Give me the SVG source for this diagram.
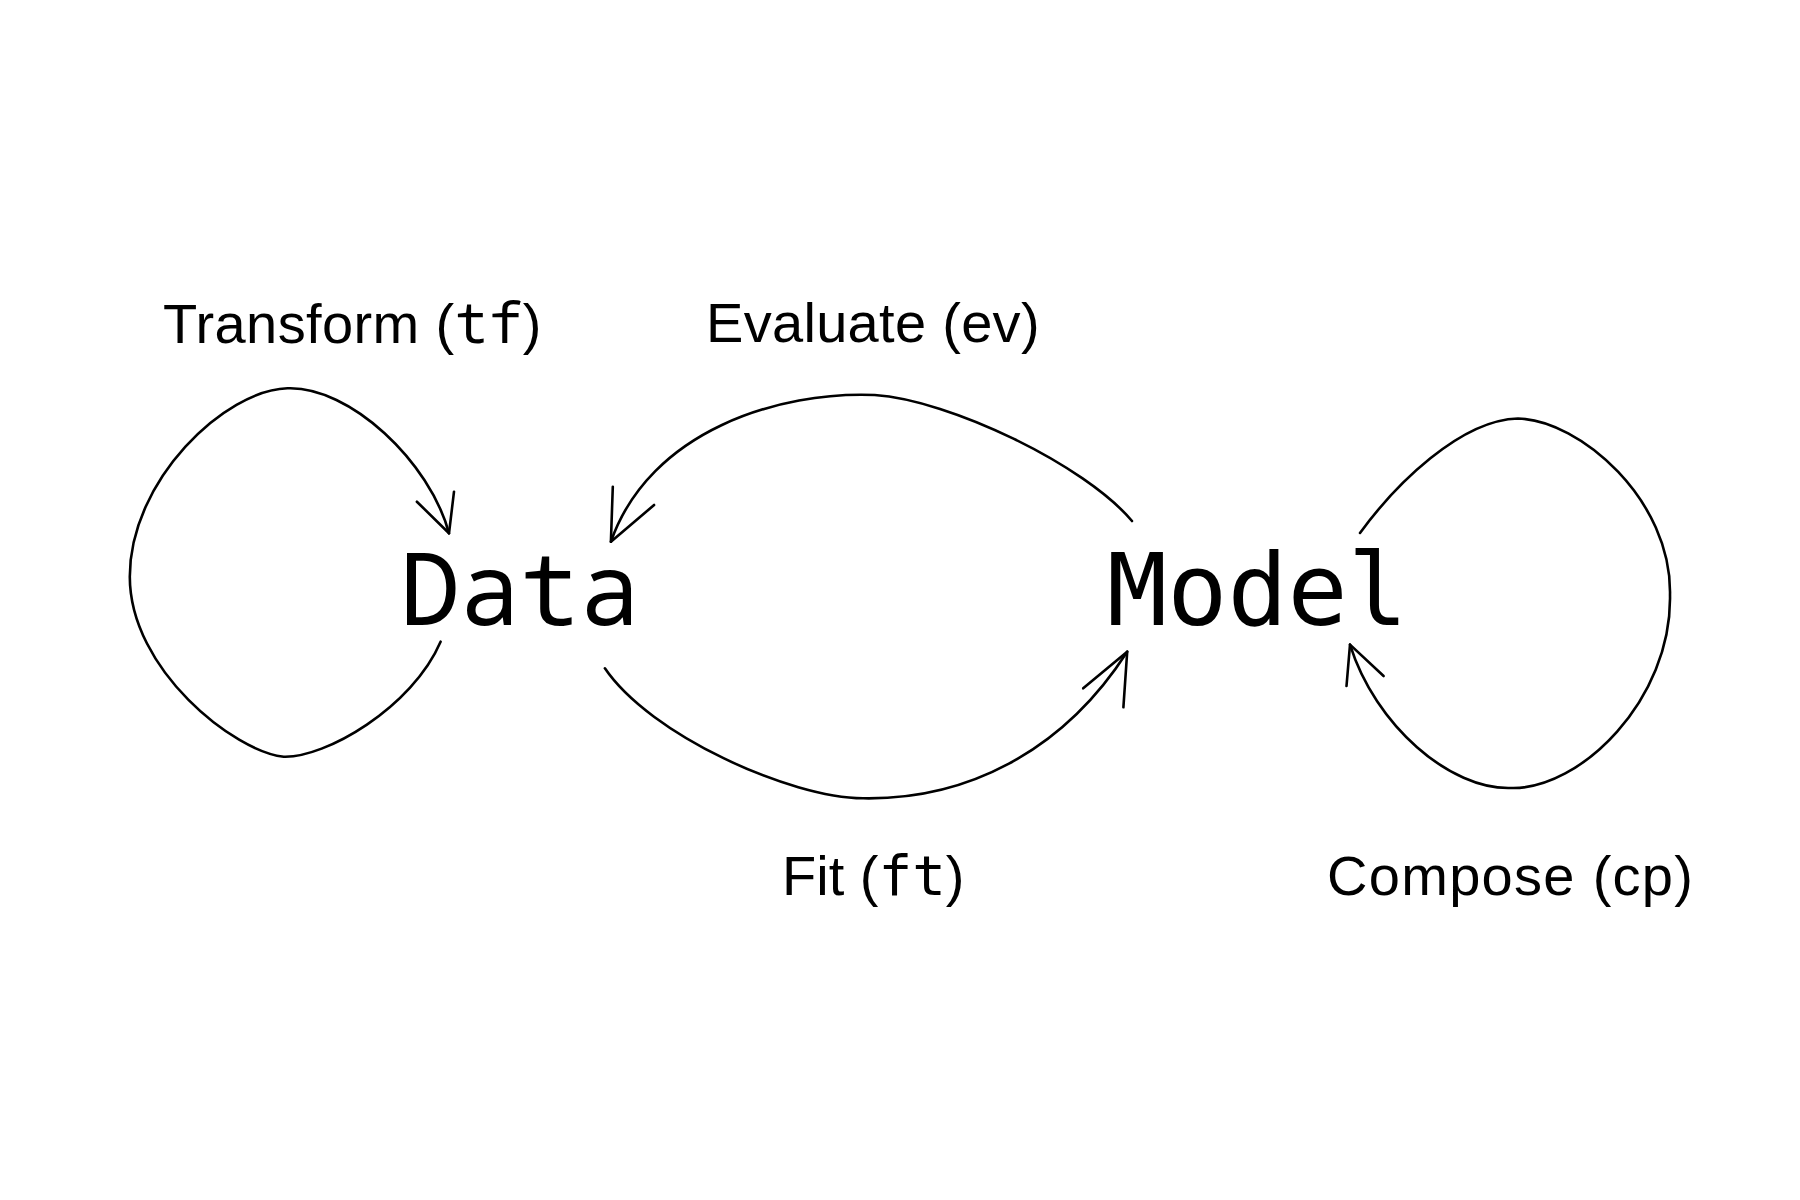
<svg xmlns="http://www.w3.org/2000/svg" width="1800" height="1200" viewBox="0 0 1800 1200">
<style>
.edge{fill:none;stroke:#000;stroke-width:2.6;stroke-linecap:round;stroke-linejoin:round}
.lbl{font-family:"Liberation Sans",Arial,sans-serif;font-size:56px;fill:#000}
.mono{font-family:"DejaVu Sans Mono",monospace}
.mono2{font-family:"Noto Sans Mono","DejaVu Sans Mono",monospace}
.node{font-size:100px;fill:#000}
</style>
<rect width="1800" height="1200" fill="#fff"/>
<g id="data"><text class="node mono2" x="400" y="625">Data</text></g>
<g id="model"><text class="node mono" x="1107" y="625">Model</text></g>
<g id="connectors">
  <g id="tf">
    <path class="edge" d="M440.6,641.7 C412,708 325,758 283.7,756.7 C235,752 129.8,670 129.8,576.7 C129.8,480 225,390 287.5,388.3 C350,386 430,462 449,533.3"/>
    <path class="edge" d="M416.9,501.7 L449,533.3 L454,491.7"/>
    <text class="lbl" x="163" y="342.5" letter-spacing="0.4">Transform (<tspan class="mono2">tf</tspan>)</text>
  </g>
  <g id="ev">
    <path class="edge" d="M1132,521 C1085,465 950,400 874.7,395 C780,391 650,430 610.9,541.7"/>
    <path class="edge" d="M612.8,486.7 L610.9,541.7 L654.1,505"/>
    <text class="lbl" x="706" y="342" letter-spacing="0.3">Evaluate (ev)</text>
  </g>
  <g id="ft">
    <path class="edge" d="M604.9,668.3 C650,735 790,798 863.2,798.3 C965,800 1062,753 1127.2,651.7"/>
    <path class="edge" d="M1083.2,688.3 L1127.2,651.7 L1123.4,707.3"/>
    <text class="lbl" x="782" y="895">Fit (<tspan class="mono">ft</tspan>)</text>
  </g>
  <g id="cp">
    <path class="edge" d="M1360,533 C1395,485 1460,420 1518,418.5 C1580,420 1672,500 1670,595 C1672,700 1580,790 1511,788 C1450,790 1375,725 1350,644.6"/>
    <path class="edge" d="M1346.5,686 L1350,644.6 L1383.6,676"/>
    <text class="lbl" x="1327" y="895" letter-spacing="1.3">Compose (cp)</text>
  </g>
</g>
</svg>
